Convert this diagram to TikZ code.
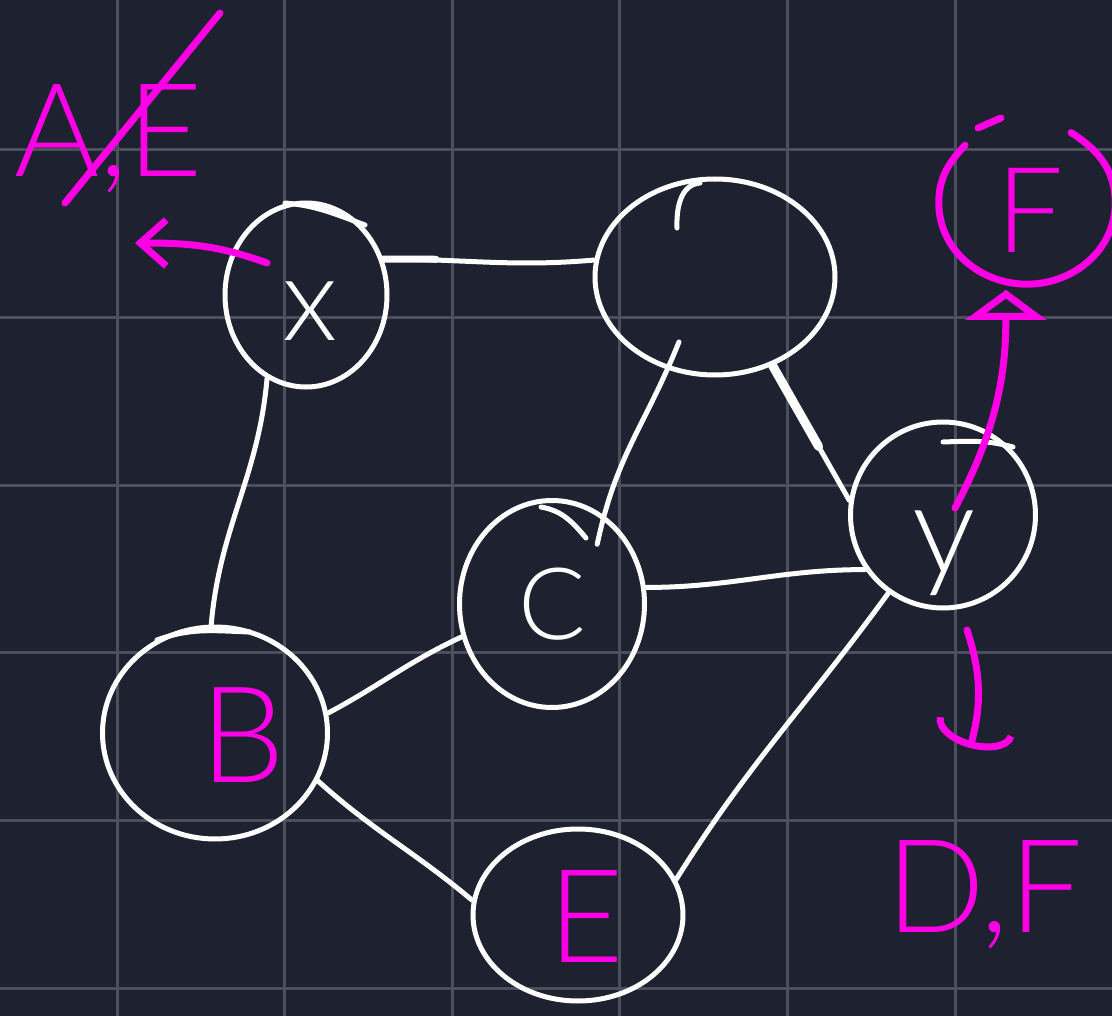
\documentclass[tikz,border=0pt]{standalone}
\usepackage{fontspec}
\IfFontExistsTF{Lato Light}{\newfontfamily\hand{Lato Light}}{\newfontfamily\hand{Lato}}
\usetikzlibrary{shapes.geometric,arrows.meta,calc}
\definecolor{bg}{RGB}{30,34,48}
\definecolor{gridc}{RGB}{76,80,92}
\definecolor{mag}{RGB}{255,0,230}
\newcommand\fsz[1]{\fontsize{#1}{#1}\selectfont}
\tikzset{
  circ/.style={draw=white, line width=5pt, ellipse, inner sep=0pt},
  edge/.style={draw=white, line width=5pt, line cap=round, line join=round},
  pen/.style={draw=mag, line width=7pt, line cap=round, line join=round},
  wtxt/.style={text=white, inner sep=0pt},
  mtxt/.style={text=mag, inner sep=0pt},
}
\begin{document}
\begin{tikzpicture}[x=1pt,y=-1pt]
\fill[bg] (0,0) rectangle (1112,1016);
\useasboundingbox (0,0) rectangle (1112,1016);
\foreach \i in {0,...,5} {
  \draw[gridc, line width=3pt] ({117+167.6*\i},0) -- ({117+167.6*\i},1016);
  \draw[gridc, line width=3pt] (0,{150+167.6*\i}) -- (1112,{150+167.6*\i});
}
% nodes
\node[circ, minimum width=162pt, minimum height=184pt] (X) at (306,295) {};
\node[circ, minimum width=240pt, minimum height=196pt] (T) at (715,277) {};
\node[circ, minimum width=185pt, minimum height=186pt] (Y) at (943,515) {};
\node[circ, minimum width=185pt, minimum height=207pt] (C) at (552,604) {};
\node[circ, minimum width=225pt, minimum height=212pt] (B) at (215,733) {};
\node[circ, minimum width=210pt, minimum height=172pt] (E) at (578,915) {};
\node[ellipse, inner sep=0pt, minimum width=176pt, minimum height=162pt] (F) at (1027,203) {};
% hand-drawn extra strokes on node outlines
\draw[edge] (285,203) to[out=-5,in=160] (365,225);
\draw[edge] (677,228) to[out=92,in=185] (700,183);
\draw[edge] (943,442) to[out=2,in=165] (1013,447);
\draw[edge] (157,640) to[out=20,in=178] (250,632);
\draw[edge] (541,507) to[out=-10,in=130] (586,538);
% edges
\draw[edge] (X.25) to[out=0,in=185] (T.172);
\draw[edge, line width=7pt] (X.25) -- ($(X.25)!0.25!(T.172)$);
\draw[edge] (X.245) to[out=-95,in=85] (B.92);
\draw[edge, shorten <=-30pt, shorten >=-30pt] (T.243) to[out=-112,in=78] (C.60);
\draw[edge] (T.303) -- (Y.171);
\draw[edge, line width=9pt] (T.303) -- ($(T.303)!0.6!(Y.171)$);
\draw[edge] (C.10) to[out=0,in=180] (Y.215);
\draw[edge] (B.10) to[out=28,in=-155] (C.200);
\draw[edge] (B.335) to[out=-42,in=140] (E.172);
\draw[edge] (E.20) to[out=58,in=234] (Y.235);
% F circle (open at top)
\draw[pen] (F.137) to[out=227,in=90] (F.180) to[out=-90,in=180] (F.270) to[out=0,in=-90] (F.0) to[out=90,in=-32] (F.58);
\draw[pen] (978,128) -- (1001,118);
% labels
\node[wtxt, font={\hand\fsz{118}}] (xt) at (310,311) {x};
\node[wtxt, font={\hand\fsz{126}}] (yt) at (944,553) {y};
\node[wtxt, font={\hand\fsz{100}}] (ct) at (552,604) {C};
\node[mtxt, font={\hand\fsz{134}}] (bt) at (243,735) {B};
\node[mtxt, font={\hand\fsz{130}}] (et) at (586,917) {E};
\node[mtxt, font={\hand\fsz{119}}] (ft) at (1030,210) {F};
\node[mtxt, font={\hand\fsz{130}}, anchor=base west] (ae) at (14,177) {A,E};
\node[mtxt, font={\hand\fsz{130}}, anchor=base west] (df) at (886,932) {D,F};
\draw[pen] (65,203) -- (220,13);
% magenta arrows
\coordinate (xs) at (267,263);
\coordinate (xe) at (135,243);
\draw[pen, -{Straight Barb[length=26pt,width=46pt]}] (xs) to[out=160,in=0] (xe);
\coordinate (ys) at (955,508);
\draw[pen, shorten >=8pt, -{Triangle[open,length=30pt,width=80pt]}] (ys) to[out=62,in=-90] (F.255);
\coordinate (ds) at (967,630);
\coordinate (de) at (970,748);
\draw[pen, -{Arc Barb[length=22pt,width=80pt]}] (ds) to[out=-72,in=75] (de);
\end{tikzpicture}
\end{document}
